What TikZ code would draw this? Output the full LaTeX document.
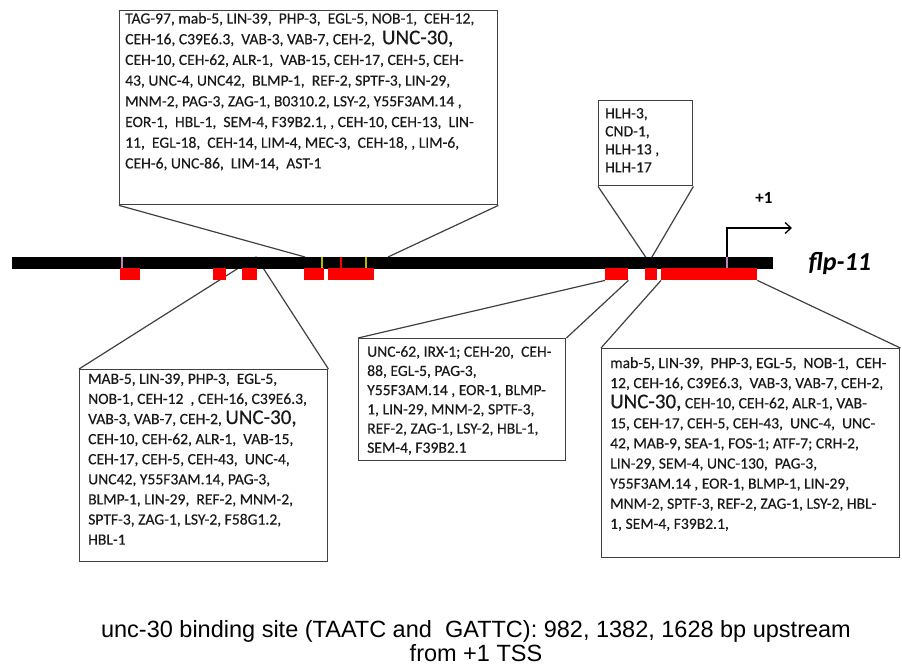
\documentclass[tikz,border=0pt]{standalone}
\usepackage{fontspec}
\setmainfont{Carlito}
\newfontfamily\tffont{Carlito}[FakeBold=0.35]
\newfontfamily\capfont{Liberation Sans}
\usetikzlibrary{arrows.meta,backgrounds}
\definecolor{tfgray}{RGB}{64,64,64}
\definecolor{siteRed}{RGB}{255,0,0}
\definecolor{markPink}{RGB}{190,130,190}
\definecolor{markOlive}{RGB}{185,185,0}
\newcommand{\uncbig}{{\fontsize{21}{20}\selectfont UNC-30,}}

\begin{document}
\begin{tikzpicture}[x=1pt,y=-1pt,
  tfbox/.style={draw=tfgray,line width=1.4pt,anchor=north west,inner sep=0pt},
  tftext/.style={anchor=north west,align=left,inner sep=0pt,
                 font=\tffont\fontsize{15.6}{20.1}\selectfont,text=black!90},
  site/.style={fill=siteRed,anchor=north west,inner sep=0pt,minimum height=12pt},
  callout/.style={draw=tfgray,line width=1.2pt}]
  \useasboundingbox (0,0) rectangle (902,668);

  % gene and binding regions
  \node[fill=black,anchor=north west,inner sep=0pt,minimum width=761pt,minimum height=12pt] (gene) at (12,257) {};
  \node[site,minimum width=20pt] (site1) at (120,268) {};
  \node[site,minimum width=13pt] (site2) at (213,268) {};
  \node[site,minimum width=15pt] (site3) at (242,268) {};
  \node[site,minimum width=20pt] (site4) at (304,268) {};
  \node[site,minimum width=46pt] (site5) at (328,268) {};
  \node[site,minimum width=23pt] (site6) at (605,268) {};
  \node[site,minimum width=12pt] (site7) at (645,268) {};
  \node[site,minimum width=96pt] (site8) at (661,268) {};
  \foreach \mx/\mc in {122/markPink,727/markPink,322/markOlive,366/markOlive,341/siteRed}
    \draw[\mc,line width=1.5pt] (\mx,257.5) -- (\mx,268.5);

  \node[anchor=west,font=\fontsize{26}{26}\selectfont\bfseries\itshape] (flp) at (805,263) {flp-11};

  \coordinate (tss) at (727,257);
  \coordinate (tssEnd) at (792,228);
  \draw[-{Straight Barb[length=6pt,width=11pt]},line width=1.3pt] (tss) |- (tssEnd);
  \node[font=\fontsize{17}{17}\selectfont\bfseries] (plus1) at (764,198) {+1};

  % transcription factor boxes
  \node[tfbox,minimum width=378pt,minimum height=194pt] (topBox) at (119,10) {};
  \node[tftext,font=\tffont\fontsize{15.6}{20.7}\selectfont] (topTxt) at (125,12.5) {TAG-97, mab-5, LIN-39,~ PHP-3,~ EGL-5, NOB-1,~ CEH-12,\\
    CEH-16, C39E6.3,~ VAB-3, VAB-7, CEH-2,~ \uncbig\\
    CEH-10, CEH-62, ALR-1,~ VAB-15, CEH-17, CEH-5, CEH-\\
    43, UNC-4, UNC42,~ BLMP-1,~ REF-2, SPTF-3, LIN-29,\\
    MNM-2, PAG-3, ZAG-1, B0310.2, LSY-2, Y55F3AM.14 ,\\
    EOR-1,~ HBL-1,~ SEM-4, F39B2.1, , CEH-10, CEH-13,~ LIN-\\
    11,~ EGL-18,~ CEH-14, LIM-4, MEC-3,~ CEH-18, , LIM-6,\\
    CEH-6, UNC-86,~ LIM-14,~ AST-1};

  \node[tfbox,minimum width=94pt,minimum height=85pt] (hlhBox) at (598,100) {};
  \node[tftext,font=\tffont\fontsize{15.6}{18}\selectfont] (hlhTxt) at (605,108) {HLH-3,\\ CND-1,\\ HLH-13 ,\\ HLH-17};

  \node[tfbox,minimum width=248pt,minimum height=192pt] (lbBox) at (79,369) {};
  \node[tftext] (lbTxt) at (88,373.5) {MAB-5, LIN-39, PHP-3,~ EGL-5,\\
    NOB-1, CEH-12~ , CEH-16, C39E6.3,\\
    VAB-3, VAB-7, CEH-2, \uncbig\\
    CEH-10, CEH-62, ALR-1,~ VAB-15,\\
    CEH-17, CEH-5, CEH-43,~ UNC-4,\\
    UNC42, Y55F3AM.14, PAG-3,\\
    BLMP-1, LIN-29,~ REF-2, MNM-2,\\
    SPTF-3, ZAG-1, LSY-2, F58G1.2,\\
    HBL-1};

  \node[tfbox,minimum width=207pt,minimum height=122pt] (midBox) at (358,338) {};
  \node[tftext,font=\tffont\fontsize{15.6}{19.2}\selectfont] (midTxt) at (367,346) {UNC-62, IRX-1; CEH-20,~ CEH-\\
    88, EGL-5, PAG-3,\\
    Y55F3AM.14 , EOR-1, BLMP-\\
    1, LIN-29, MNM-2, SPTF-3,\\
    REF-2, ZAG-1, LSY-2, HBL-1,\\
    SEM-4, F39B2.1};

  \node[tfbox,minimum width=298pt,minimum height=209pt] (rbBox) at (601,348) {};
  \node[tftext] (rbTxt) at (610,357) {mab-5, LIN-39,~ PHP-3, EGL-5,~ NOB-1,~ CEH-\\
    12, CEH-16, C39E6.3,~ VAB-3, VAB-7, CEH-2,\\
    \uncbig\ CEH-10, CEH-62, ALR-1, VAB-\\
    15, CEH-17, CEH-5, CEH-43,~ UNC-4,~ UNC-\\
    42, MAB-9, SEA-1, FOS-1; ATF-7; CRH-2,\\
    LIN-29, SEM-4, UNC-130,~ PAG-3,\\
    Y55F3AM.14 , EOR-1, BLMP-1, LIN-29,\\
    MNM-2, SPTF-3, REF-2, ZAG-1, LSY-2, HBL-\\
    1, SEM-4, F39B2.1,};

  \coordinate (topL) at (305,257);
  \coordinate (topR) at (388,257);
  \coordinate (apexL) at (256,257);
  \coordinate (apexH) at (649,262);
  \begin{scope}[on background layer]
    \draw[callout] (topBox.south west) -- (topL);
    \draw[callout] (topBox.south east) -- (topR);
    \draw[callout] (hlhBox.south west) -- (apexH) -- (hlhBox.south east);
    \draw[callout] (lbBox.north west) -- (apexL) -- (lbBox.north east);
    \draw[callout] (midBox.north west) -- (site6.south west);
    \draw[callout] (midBox.north east) -- (site6.south east);
    \draw[callout] (rbBox.north west) -- (site8.south west);
    \draw[callout] (rbBox.north east) -- (site8.south east);
  \end{scope}

  \node[align=center,font=\capfont\fontsize{23.5}{23.5}\selectfont] (caption) at (476,641)
    {unc-30 binding site (TAATC and~ GATTC): 982, 1382, 1628 bp upstream\\ from +1 TSS};
\end{tikzpicture}
\end{document}
